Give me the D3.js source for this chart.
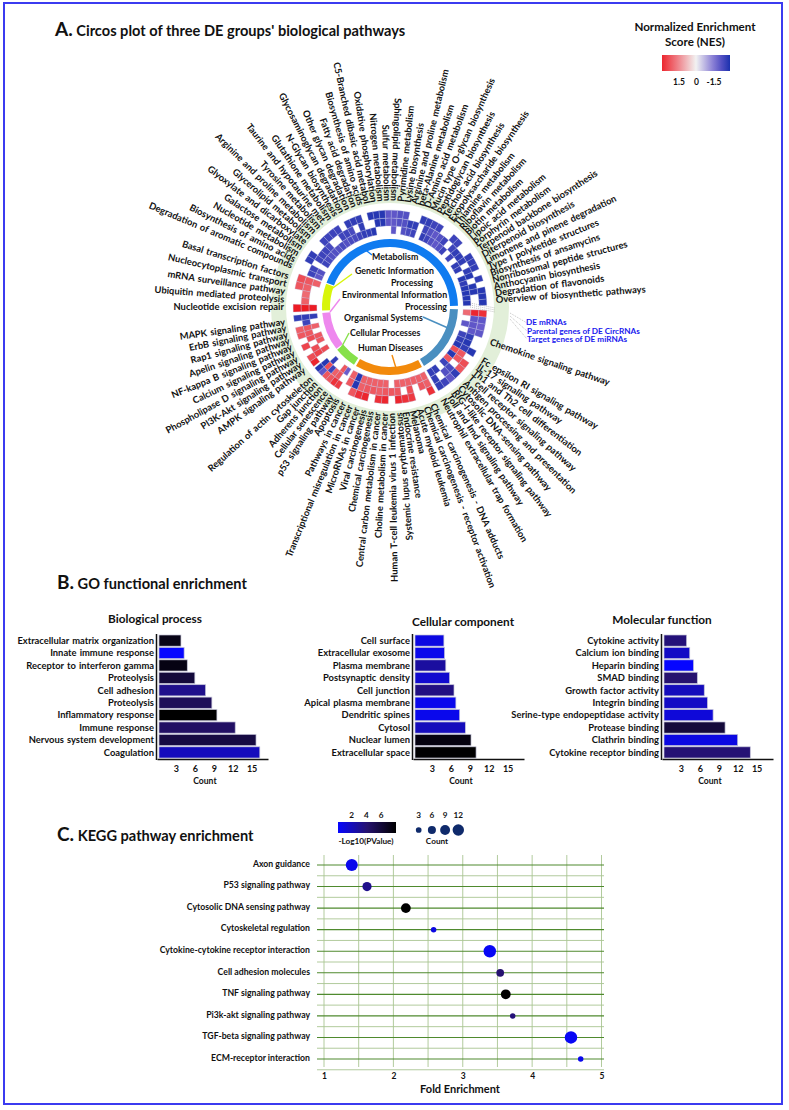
<!DOCTYPE html>
<html>
<head>
<meta charset="utf-8">
<script src="https://cdnjs.cloudflare.com/ajax/libs/d3/7.8.5/d3.min.js"></script>
<style>
body { margin: 0; background: #fff; }
text { font-family: Lato, "Open Sans", sans-serif; font-weight: 700; fill: #111; }
</style>
</head>
<body>
<svg id="canvas" width="789" height="1110"></svg>
<script>
const _ = null

// circos: terms are clockwise inside each group
let metabolismTerms = ['Degradation of aromatic compounds', 'Biosynthesis of amino acids', 'Nucleotide metabolism', 'Galactose metabolism', 'Glyoxylate and dicarboxylate', 'Glycerolipid metabolism', 'Arginine and proline metabolism', 'Tyrosine metabolism', 'Taurine and hypotaurine met.', 'Glutathione metabolism', 'N-Glycan biosynthesis', 'Glycosaminoglycan degradation', 'Other glycan degradation', 'Fatty acid degradation', 'Biosynthesis of amino acids', 'C5-Branched dibasic acid metabol', 'Oxidative phosphorylation', 'Nitrogen metabolism', 'Sulfur metabolism', 'Sphingolipid metabolism', 'Pyrimidine metabolism', 'Lysine biosynthesis', 'Arginine and proline metabolism', 'beta-Alanine metabolism', 'D-Amino acid metabolism', 'Mucin type O-glycan biosynthesis', 'Peptidoglycan biosynthesis', 'Teichoic acid biosynthesis', 'Exopolysaccharide biosynthesis', 'Thiamine metabolism', 'Riboflavin metabolism', 'Biotin metabolism', 'Lipoic acid metabolism', 'Porphyrin metabolism', 'Terpenoid backbone biosynthesis', 'Diterpenoid biosynthesis', 'Limonene and pinene degradation', 'Type I polyketide structures', 'Biosynthesis of ansamycins', 'Nonribosomal peptide structures', 'Anthocyanin biosynthesis', 'Degradation of flavonoids', 'Overview of biosynthetic pathways']
let geneticTerms = ['Nucleotide excision repair', 'Ubiquitin mediated proteolysis', 'mRNA surveillance pathway', 'Nucleocytoplasmic transport', 'Basal transcription factors']
let environmentTerms = ['AMPK signaling pathway', 'PI3K-Akt signaling pathway', 'Phospholipase D signaling pathway', 'Calcium signaling pathway', 'NF-kappa B signaling pathway', 'Apelin signaling pathway', 'Rap1 signaling pathway', 'ErbB signaling pathway', 'MAPK signaling pathway']
let cellularTerms = ['Apoptosis', 'p53 signaling pathway', 'Cellular senescence', 'Adherens junction', 'Gap junction', 'Regulation of actin cytoskeleton']
let diseaseTerms = ['Chemical carcinogenesis - DNA adducts', 'Chemical carcinogenesis - receptor activation', 'Acute myeloid leukemia', 'Melanoma', 'Endocrine resistance', 'Systemic lupus erythematosus', 'Human T-cell leukemia virus 1 infection', 'Choline metabolism in cancer', 'Central carbon metabolism in cancer', 'Chemical carcinogenesis', 'Viral carcinogenesis', 'MicroRNAs in cancer', 'Transcriptional misregulation in cancer', 'Pathways in cancer']
let organismalTerms = ['Chemokine signaling pathway', 'Fc epsilon RI signaling pathway', 'IL-17 signaling pathway', 'Th1 and Th2 cell differentiation', 'T cell receptor signaling pathway', 'Antigen processing and presentation', 'Cytosolic DNA-sensing pathway', 'RIG-I-like receptor signaling pathway', 'Toll and Imd signaling pathway', 'Neutrophil extracellular trap formation']

// NES per column, three rings: inner, middle, outer
let metabolismInner = [-1.4,-1.5,_,-1.7,-1.6,-1.5,-1.5,-1.5,-1.6,-1.5,-1.6,-1.6,-1.7,-1.8,-1.8,-1.9,_,_,_,-1.4,_,-1.5,-1.6,-1.7,_,-1.8,-1.7,-1.5,-1.4,-1.5,-1.7,_,-1.7,_,-1.8,-1.8,_,-1.9,-1.8,-1.9,-1.9,-1.9,-1.9]
let metabolismMiddle = [-1.7,-1.7,_,-1.7,-1.7,-1.7,-1.6,_,_,-1.7,-1.7,-1.6,_,-1.8,_,_,-1.9,-1.9,-1.4,-1.4,-1.5,-1.5,-1.8,-1.8,_,-1.7,-1.5,-1.4,-1.5,-1.7,_,-1.7,-1.8,-1.8,-1.8,_,-1.8,-1.9,_,-1.9,-1.9,_,_]
let metabolismOuter = [_,_,-1.8,-1.8,_,_,-1.7,-1.7,-1.7,-1.7,_,-1.8,-1.8,-1.8,_,-1.9,-1.9,-1.9,-1.4,-1.4,-1.5,-1.5,_,_,-1.8,-1.8,-1.7,-1.7,_,_,-1.7,-1.7,_,_,-1.8,-1.8,-1.8,_,-1.8,_,-1.9,-1.9,-1.9]
let geneticInner = [2.1,_,_,_,1.4]
let geneticMiddle = [2.1,1.4,1.3,1.4,1.5]
let geneticOuter = [2.1,_,_,1.5,1.6]
let environmentInner = [_,1.6,_,1.5,1.5,_,1.4,_,-1.8]
let environmentMiddle = [_,1.7,1.6,_,1.6,1.5,1.5,-1.7,-1.8]
let environmentOuter = [2.0,1.6,_,1.7,_,1.5,1.4,_,-1.8]
let cellularInner = [-1.3,1.5,_,_,-1.8,_]
let cellularMiddle = [_,1.5,1.4,-1.7,1.6,-1.9]
let cellularOuter = [1.8,1.9,1.5,1.5,-1.4,-1.9]
let diseaseInner = [1.4,1.4,1.4,1.4,1.4,1.4,_,1.4,1.4,1.4,1.4,1.4,-1.9,1.4]
let diseaseMiddle = [1.4,1.5,_,1.6,_,1.5,1.5,1.5,1.4,1.5,1.5,1.4,-1.9,1.5]
let diseaseOuter = [1.9,_,_,1.8,1.9,2.0,_,2.0,1.9,_,2.0,1.9,1.5,_]
let organismalInner = [1.3,_,-1.4,_,-1.7,-1.8,-1.9,1.6,-1.9,1.5,-1.7,_,-1.8,-1.8]
let organismalMiddle = [2.0,-1.4,-1.4,-1.4,-1.8,-1.9,-1.8,1.5,1.5,_,-1.6,-1.5,_,-1.8]
let organismalOuter = [1.9,-1.4,-1.3,-1.4,_,_,-1.9,_,1.6,1.5,-1.8,-1.4,-1.7,-1.8]

// GO panels
let bpLabels = ['Extracellular matrix organization', 'Innate immune response', 'Receptor to interferon gamma', 'Proteolysis', 'Cell adhesion', 'Proteolysis', 'Inflammatory response', 'Immune response', 'Nervous system development', 'Coagulation']
let bpCounts = [3.8, 4.3, 4.8, 6, 7.7, 8.7, 9.5, 12.4, 15.7, 16.3]
let bpLogP = [6.4, 1, 6.5, 5.4, 3.4, 4.6, 7, 4.3, 5.2, 2.4]
let ccLabels = ['Cell surface', 'Extracellular exosome', 'Plasma membrane', 'Postsynaptic density', 'Cell junction', 'Apical plasma membrane', 'Dendritic spines', 'Cytosol', 'Nuclear lumen', 'Extracellular space']
let ccCounts = [4.9, 5, 5.2, 5.8, 6.5, 6.8, 7.4, 8.3, 9.2, 10]
let ccLogP = [1.6, 1.4, 3, 2, 3.6, 1.4, 1.4, 2.4, 6.6, 7]
let mfLabels = ['Cytokine activity', 'Calcium ion binding', 'Heparin binding', 'SMAD binding', 'Growth factor activity', 'Integrin binding', 'Serine-type endopeptidase activity', 'Protease binding', 'Clathrin binding', 'Cytokine receptor binding']
let mfCounts = [3.9, 4.4, 5, 5.6, 6.7, 7.2, 8.1, 10, 12, 14]
let mfLogP = [3.8, 2.2, 1, 4, 2.4, 2.2, 1.8, 5.4, 1.6, 3.9]
let countTicks = [3, 6, 9, 12, 15]

// KEGG panel
let keggLabels = ['Axon guidance', 'P53 signaling pathway', 'Cytosolic DNA sensing pathway', 'Cytoskeletal regulation', 'Cytokine-cytokine receptor interaction', 'Cell adhesion molecules', 'TNF signaling pathway', 'Pi3k-akt signaling pathway', 'TGF-beta signaling pathway', 'ECM-receptor interaction']
let keggFold = [1.4, 1.62, 2.18, 2.58, 3.39, 3.54, 3.62, 3.72, 4.56, 4.7]
let keggCount = [12, 7, 8, 2.5, 13, 5, 8, 2.5, 13, 2.5]
let keggLogP = [1.4, 3.4, 7, 1.6, 1.2, 4, 7, 3.8, 1.2, 1.4]
let foldTicks = [1, 2, 3, 4, 5]
let logPLegend = [2, 4, 6]
let countLegend = [3, 6, 9, 12]
let nesLegend = [1.5, 0, -1.5]

let svg = d3.select('#canvas')

svg.append('rect').attr('x', 4).attr('y', 3).attr('width', 778).attr('height', 1101)
    .attr('fill', 'none').attr('stroke', '#3b3bf0').attr('stroke-width', 2)

let title = (x, y, letter, rest) => {
    let t = svg.append('text').attr('x', x).attr('y', y)
    t.append('tspan').text(letter).style('font-size', '19px')
    t.append('tspan').text(' ' + rest).style('font-size', '14.6px')
}
title(55, 36, 'A.', "Circos plot of three DE groups' biological pathways")
title(57, 589, 'B.', 'GO functional enrichment')
title(57, 841, 'C.', 'KEGG pathway enrichment')

// ---------- circos ----------
let cx = 390, cy = 307
let nesColor = d3.scaleLinear()
    .domain([2.1, 1.3, 0, -1.3, -1.9])
    .range(['#ec1c24', '#ee6a72', '#f2f2f2', '#6a5ccc', '#2637b2'])

let sectors = [
    {name: 'metabolism', start: 291, end: 449, arc: '#0f7bf0', rings: [metabolismInner, metabolismMiddle, metabolismOuter], terms: metabolismTerms, labelFrom: 293, labelTo: 446},
    {name: 'organismal', start: 452, end: 510, arc: '#4a8fc0', rings: [organismalInner, organismalMiddle, organismalOuter], terms: organismalTerms, labelFrom: 109, labelTo: 150, firstStep: 11},
    {name: 'disease', start: 512, end: 570, arc: '#f28a0c', rings: [diseaseInner, diseaseMiddle, diseaseOuter], terms: diseaseTerms, labelFrom: 156, labelTo: 206},
    {name: 'cellular', start: 572, end: 591, arc: '#86e04a', rings: [cellularInner, cellularMiddle, cellularOuter], terms: cellularTerms, labelFrom: 210, labelTo: 228},
    {name: 'environment', start: 592, end: 625, arc: '#ee88ee', rings: [environmentInner, environmentMiddle, environmentOuter], terms: environmentTerms, labelFrom: 234, labelTo: 262},
    {name: 'genetic', start: 627, end: 650, arc: '#d8f50a', rings: [geneticInner, geneticMiddle, geneticOuter], terms: geneticTerms, labelFrom: 270, labelTo: 287}
]

let circos = svg.append('g').attr('transform', 'translate(' + cx + ',' + cy + ')')
let rad = (deg) => deg * Math.PI / 180

circos.append('path')
    .attr('d', d3.arc()({innerRadius: 104, outerRadius: 119, startAngle: 0, endAngle: 2 * Math.PI}))
    .attr('fill', '#e2efd9')

let ringScale = d3.scaleBand().domain([0, 1, 2]).range([73, 97]).padding(0.02)

sectors.forEach((s) => {
    circos.append('path')
        .attr('d', d3.arc()({innerRadius: 60, outerRadius: 68, startAngle: rad(s.start), endAngle: rad(s.end)}))
        .attr('fill', s.arc)

    let columns = d3.scaleBand().domain(d3.range(s.rings[0].length)).range([s.start, s.end])
    s.rings.forEach((values, ring) => {
        let cells = values.map((v, i) => { return {nes: v, col: i} }).filter((c) => c.nes !== null)
        circos.append('g').selectAll('path')
            .data(cells)
            .enter()
            .append('path')
            .attr('d', (d) => {
                return d3.arc()({
                    innerRadius: ringScale(ring),
                    outerRadius: ringScale(ring) + ringScale.bandwidth(),
                    startAngle: rad(columns(d.col)),
                    endAngle: rad(columns(d.col) + columns.bandwidth())
                })
            })
            .attr('fill', (d) => nesColor(d.nes))
            .attr('stroke', '#b6bbdf')
            .attr('stroke-width', 0.3)
    })

    // labels fan out on their own spacing
    let names = s.terms
    let labelAngle = d3.scalePoint().domain(d3.range(names.length)).range([s.labelFrom, s.labelTo])
    if (s.firstStep) {
        labelAngle = d3.scalePoint().domain(d3.range(names.length - 1)).range([s.labelFrom + s.firstStep, s.labelTo])
    }
    names.forEach((term, i) => {
        let a = s.firstStep ? (i === 0 ? s.labelFrom : labelAngle(i - 1)) : labelAngle(i)
        let flip = a > 174.5 && a < 362.5
        circos.append('text')
            .attr('transform', 'rotate(' + (a - 90) + ') translate(106,0)' + (flip ? ' rotate(180)' : ''))
            .attr('dy', '0.35em')
            .attr('text-anchor', flip ? 'end' : 'start')
            .style('font-size', '9.4px')
            .style('word-spacing', '1px')
            .text(term)
    })
})

// group names in the middle with their leaders
let leaders = [
    {color: '#0f7bf0', line: [[363, 248], [372, 255]]},
    {color: '#d8f50a', line: [[330, 290], [352, 274]]},
    {color: '#ee88ee', line: [[330, 312], [340, 299]]},
    {color: '#4a8fc0', line: [[423, 317], [448, 328]]},
    {color: '#86e04a', line: [[340, 350], [349, 333]]},
    {color: '#f28a0c', line: [[392, 355], [396, 368]]}
]
leaders.forEach((l) => {
    svg.append('path').attr('d', d3.line()(l.line)).attr('stroke', l.color).attr('stroke-width', 1.4).attr('fill', 'none')
})
let centerNames = [
    ['Metabolism', 372, 260, 'start'],
    ['Genetic Information', 355, 274, 'start'],
    ['Processing', 433, 286, 'end'],
    ['Environmental Information', 342, 298, 'start'],
    ['Processing', 447, 310, 'end'],
    ['Organismal Systems', 344, 321, 'start'],
    ['Cellular Processes', 350, 336, 'start'],
    ['Human Diseases', 358, 351, 'start']
]
svg.append('g').selectAll('text').data(centerNames).enter().append('text')
    .attr('x', (d) => d[1]).attr('y', (d) => d[2]).attr('text-anchor', (d) => d[3])
    .style('font-size', '8.8px').text((d) => d[0])

// ring key to the right
let keyLines = [[[470, 303], [495, 308]], [[470, 305], [495, 310]], [[470, 307], [495, 312]], [[510, 313], [527, 323]], [[510, 316], [527, 331]], [[510, 319], [527, 339]]]
keyLines.forEach((l) => {
    svg.append('path').attr('d', d3.line()(l)).attr('stroke', '#888').attr('stroke-width', 0.5).attr('stroke-dasharray', '1,1').attr('fill', 'none')
})
let keyNames = [['DE mRNAs', 526, 325], ['Parental genes of DE CircRNAs', 527, 333.5], ['Target genes of DE miRNAs', 527, 341.5]]
keyNames.forEach((k) => {
    svg.append('text').attr('x', k[1]).attr('y', k[2]).style('font-size', '8.2px').style('fill', '#1a1aee').text(k[0])
})

// NES legend
let defs = svg.append('defs')
let addGradient = (id, stops) => {
    defs.append('linearGradient').attr('id', id)
        .selectAll('stop').data(stops).enter().append('stop')
        .attr('offset', (d, i) => i / (stops.length - 1))
        .attr('stop-color', (d) => d)
}
addGradient('nesGradient', d3.range(2.0, -2.01, -0.5).map((v) => nesColor(v)))
svg.append('text').attr('x', 695).attr('y', 31).attr('text-anchor', 'middle').style('font-size', '11.6px').text('Normalized Enrichment')
svg.append('text').attr('x', 695).attr('y', 46).attr('text-anchor', 'middle').style('font-size', '11.6px').text('Score (NES)')
svg.append('rect').attr('x', 662).attr('y', 55).attr('width', 68).attr('height', 16).attr('fill', 'url(#nesGradient)')
let nesAxis = d3.scaleLinear().domain([1.5, -1.5]).range([679, 714])
svg.selectAll('.nesTick').data(nesLegend).enter().append('text').attr('class', 'nesTick')
    .attr('x', (d) => nesAxis(d)).attr('y', 85).attr('text-anchor', 'middle').style('font-size', '8.5px').text((d) => d)

// ---------- GO bars ----------
let goColor = d3.scaleLinear().domain([1, 4, 7]).range(['#0606ff', '#26126f', '#000000'])

let drawBars = (labels, counts, logP, zero, name, titleX, titleY) => {
    let x = d3.scaleLinear().domain([0, 17.6]).range([zero, zero + 111])
    let y = d3.scaleBand().domain(d3.range(labels.length)).range([635, 758]).paddingInner(0.1)
    let g = svg.append('g')

    g.selectAll('rect').data(counts).enter().append('rect')
        .attr('x', x(0) + 2).attr('y', (d, i) => y(i))
        .attr('width', (d) => x(d) - x(0) - 2).attr('height', y.bandwidth())
        .attr('fill', (d, i) => goColor(logP[i]))
        .attr('stroke', '#c4c4d8').attr('stroke-width', 0.7)

    g.selectAll('.barLabel').data(labels).enter().append('text').attr('class', 'barLabel')
        .attr('x', zero - 3).attr('y', (d, i) => y(i) + y.bandwidth() / 2).attr('dy', '0.35em')
        .attr('text-anchor', 'end').style('font-size', '9.4px').style('word-spacing', '0.8px').text((d) => d)

    let axis = g.append('g').attr('transform', 'translate(0,759)')
        .call(d3.axisBottom(x).tickValues(countTicks).tickSize(0).tickPadding(7))
    axis.select('.domain').attr('stroke', '#111').attr('stroke-width', 1.5)
    axis.selectAll('text').style('font-size', '9px').attr('fill', '#111').style('font-family', 'Lato').style('font-weight', 700)
    g.append('line').attr('x1', zero - 0.5).attr('x2', zero - 0.5).attr('y1', 634).attr('y2', 760).attr('stroke', '#111').attr('stroke-width', 1.5)

    g.append('text').attr('x', x(7.6)).attr('y', 784).attr('text-anchor', 'middle').style('font-size', '8.6px').text('Count')
    g.append('text').attr('x', titleX).attr('y', titleY).attr('text-anchor', 'middle').style('font-size', '11.8px').text(name)
}
drawBars(bpLabels, bpCounts, bpLogP, 157, 'Biological process', 155, 623)
drawBars(ccLabels, ccCounts, ccLogP, 413, 'Cellular component', 463, 626)
drawBars(mfLabels, mfCounts, mfLogP, 662, 'Molecular function', 662, 624)

// ---------- KEGG dots ----------
let xFold = d3.scaleLinear().domain([1, 5]).range([324, 601.5])
let yRow = d3.scalePoint().domain(keggLabels).range([865, 1059])
let rCount = d3.scaleSqrt().domain([0, 12]).range([0, 6])
let kegg = svg.append('g')

let minor = d3.range(1, 5.01, 0.5)
kegg.selectAll('.vgrid').data(minor).enter().append('line').attr('class', 'vgrid')
    .attr('x1', (d) => xFold(d)).attr('x2', (d) => xFold(d)).attr('y1', 855).attr('y2', 1067)
    .attr('stroke', '#a9c592').attr('stroke-width', 0.9)
let rowStep = yRow.step()
kegg.selectAll('.hgridLight').data(keggLabels).enter().append('line').attr('class', 'hgridLight')
    .attr('x1', 317).attr('x2', 604).attr('y1', (d) => yRow(d) + rowStep / 2).attr('y2', (d) => yRow(d) + rowStep / 2)
    .attr('stroke', '#a9c592').attr('stroke-width', 0.9)
kegg.selectAll('.hgrid').data(keggLabels).enter().append('line').attr('class', 'hgrid')
    .attr('x1', 317).attr('x2', 604).attr('y1', (d) => yRow(d)).attr('y2', (d) => yRow(d))
    .attr('stroke', '#4f8a2e').attr('stroke-width', 1.1)

kegg.selectAll('circle').data(keggLabels).enter().append('circle')
    .attr('cx', (d, i) => xFold(keggFold[i])).attr('cy', (d) => yRow(d))
    .attr('r', (d, i) => rCount(keggCount[i]))
    .attr('fill', (d, i) => goColor(keggLogP[i]))

kegg.selectAll('.rowLabel').data(keggLabels).enter().append('text').attr('class', 'rowLabel')
    .attr('x', 310).attr('y', (d) => yRow(d)).attr('dy', '0.2em').attr('text-anchor', 'end')
    .style('font-size', '8.7px').text((d) => d)

let foldAxis = kegg.append('g').attr('transform', 'translate(0,1070)')
    .call(d3.axisBottom(xFold).tickValues(foldTicks).tickFormat(d3.format('d')).tickSize(0).tickPadding(3))
foldAxis.select('.domain').remove()
foldAxis.selectAll('text').style('font-size', '8.5px').attr('fill', '#111').style('font-family', 'Lato').style('font-weight', 700)
svg.append('text').attr('x', 460).attr('y', 1093).attr('text-anchor', 'middle').style('font-size', '11px').text('Fold Enrichment')

// KEGG legends
addGradient('logPGradient', d3.range(1, 7.01, 1).map((v) => goColor(v)))
svg.append('rect').attr('x', 338).attr('y', 822).attr('width', 58).attr('height', 11).attr('fill', 'url(#logPGradient)')
let logPAxis = d3.scaleLinear().domain([2, 6]).range([351.7, 381])
svg.selectAll('.logPTick').data(logPLegend).enter().append('text').attr('class', 'logPTick')
    .attr('x', (d) => logPAxis(d)).attr('y', 818).attr('text-anchor', 'middle').style('font-size', '8.2px').text((d) => d)
svg.append('text').attr('x', 366).attr('y', 844).attr('text-anchor', 'middle').style('font-size', '8.2px').text('-Log10(PValue)')

let countAxis = d3.scalePoint().domain(countLegend).range([418.7, 458.3])
svg.selectAll('.countDot').data(countLegend).enter().append('circle').attr('class', 'countDot')
    .attr('cx', (d) => countAxis(d)).attr('cy', 830).attr('r', (d) => rCount(d) * 0.95).attr('fill', '#0f2a6b')
svg.selectAll('.countTick').data(countLegend).enter().append('text').attr('class', 'countTick')
    .attr('x', (d) => countAxis(d)).attr('y', 818).attr('text-anchor', 'middle').style('font-size', '8.2px').text((d) => d)
svg.append('text').attr('x', 437).attr('y', 844).attr('text-anchor', 'middle').style('font-size', '8.2px').text('Count')
</script>
</body>
</html>
